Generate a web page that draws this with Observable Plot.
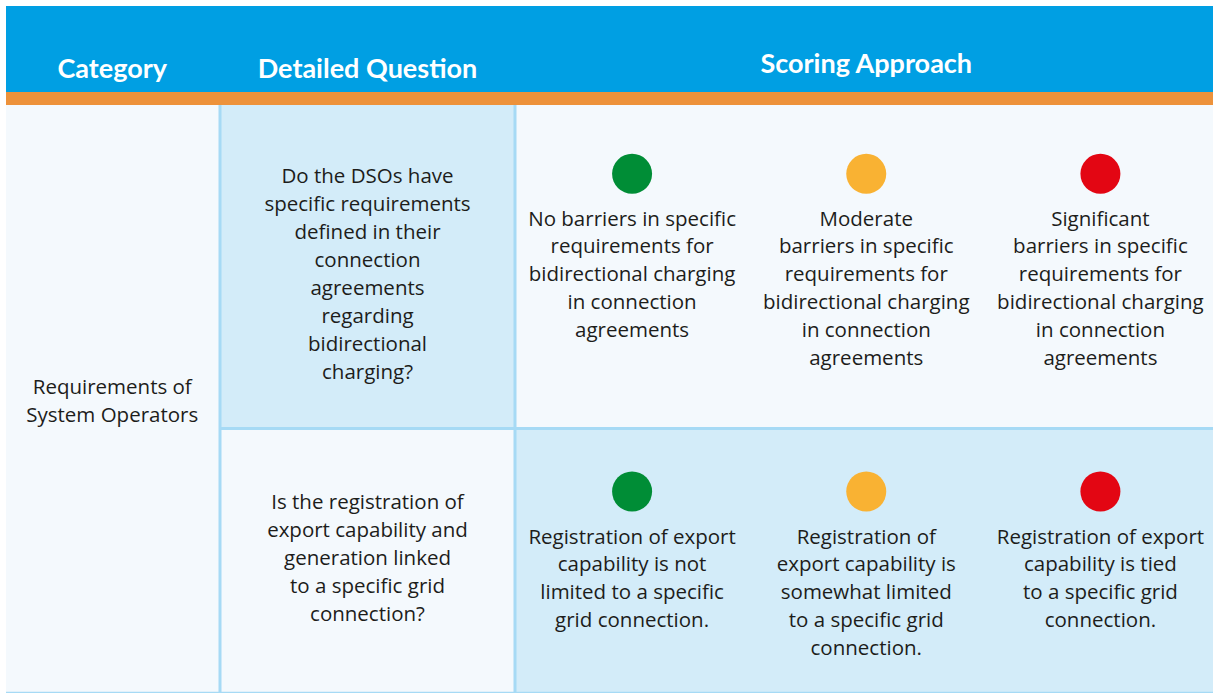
<!DOCTYPE html>
<html>
<head>
<meta charset="utf-8">
<script src="https://cdn.jsdelivr.net/npm/d3@7"></script>
<script src="https://cdn.jsdelivr.net/npm/@observablehq/plot@0.6"></script>
<style>
  html, body { margin: 0; padding: 0; background: #ffffff; }
  #chart svg { display: block; }
</style>
</head>
<body>
<div id="chart"></div>
<script>
// ---- content ----
const headers = ["Category", "Detailed Question", "Scoring Approach"];
const categories = ["Requirements of\nSystem Operators"];
const questions = [
  "Do the DSOs have\nspecific requirements\ndefined in their\nconnection\nagreements\nregarding\nbidirectional\ncharging?",
  "Is the registration of\nexport capability and\ngeneration linked\nto a specific grid\nconnection?"
];
const levels = ["No barriers", "Moderate barriers", "Significant barriers"];
const scoringRow1 = [
  "No barriers in specific\nrequirements for\nbidirectional charging\nin connection\nagreements",
  "Moderate\nbarriers in specific\nrequirements for\nbidirectional charging\nin connection\nagreements",
  "Significant\nbarriers in specific\nrequirements for\nbidirectional charging\nin connection\nagreements"
];
const scoringRow2 = [
  "Registration of export\ncapability is not\nlimited to a specific\ngrid connection.",
  "Registration of\nexport capability is\nsomewhat limited\nto a specific grid\nconnection.",
  "Registration of export\ncapability is tied\nto a specific grid\nconnection."
];

// ---- layout (pixels) ----
const W = 1213, H = 693;
const X0 = 6, XC1 = 219.5, XC2 = 514.5, XR = 1213, XS_END = 1217;
const Y0 = 6, YH = 92, YO = 105, YROW = 428, YB = 692;
const LH = 28;           // line height in px
const FS = 20.5;         // body font size
const TOP = 0.71 * LH;   // baseline offset for lineAnchor "top"
const rowTops = [YO, YROW];
const rowBottoms = [YROW, YB];
const qFirstBaselines = [182.5, 508.5];
const sFirstBaselines = [225, 543];
const dotY = [173.3, 491];
const thirds = (i) => XC2 + (XS_END - XC2) * (i + 0.5) / 3;

const palette = {light: "#f4f9fd", blue: "#d3ecf9", line: "#a6daf5", head: "#009fe3", orange: "#ed923b", text: "#1d1d1b"};

// background cells
const cells = [
  {x1: X0, x2: XR, y1: Y0, y2: YH, fill: palette.head},
  {x1: X0, x2: XR, y1: YH, y2: YO, fill: palette.orange},
  {x1: X0, x2: XC1, y1: YO, y2: YB, fill: palette.light},
  {x1: XC1, x2: XC2, y1: rowTops[0], y2: rowBottoms[0], fill: palette.blue},
  {x1: XC2, x2: XR, y1: rowTops[0], y2: rowBottoms[0], fill: palette.light},
  {x1: XC1, x2: XC2, y1: rowTops[1], y2: rowBottoms[1], fill: palette.light},
  {x1: XC2, x2: XR, y1: rowTops[1], y2: rowBottoms[1], fill: palette.blue}
];

const headerText = headers.map((h, i) => ({
  text: h,
  x: i === 0 ? (X0 + XC1) / 2 - 1 : i === 1 ? (XC1 + XC2) / 2 : (XC2 + XS_END) / 2,
  y: i === 2 ? 64 : 69
}));

const catText = categories.map(c => ({text: c, x: (X0 + XC1) / 2 - 1, y: 393.5 - TOP}));
const qText = questions.map((q, i) => ({text: q, x: (XC1 + XC2) / 2, y: qFirstBaselines[i] - TOP}));
const sText = [scoringRow1, scoringRow2].flatMap((row, r) =>
  row.map((t, i) => ({text: t, x: thirds(i), y: sFirstBaselines[r] - TOP})));
const dots = [0, 1].flatMap(r => levels.map((lv, i) => ({level: lv, x: thirds(i), y: dotY[r]})));

const bodyFont = "'Open Sans', Lato, sans-serif";

const chart = Plot.plot({
  width: W,
  height: H,
  margin: 0,
  x: {domain: [0, W], range: [0, W], axis: null},
  y: {domain: [0, H], range: [0, H], axis: null},
  color: {domain: levels, range: ["#008d36", "#f9b233", "#e30613"]},
  style: {background: "#ffffff", fontFamily: "Lato, 'Open Sans', sans-serif"},
  marks: [
    Plot.rect(cells, {x1: "x1", x2: "x2", y1: "y1", y2: "y2", fill: d => d.fill}),
    // grid lines
    Plot.ruleX([XC1, XC2], {y1: YO, y2: YB, stroke: palette.line, strokeWidth: 3}),
    Plot.ruleY([YROW], {x1: XC1, x2: XR, stroke: palette.line, strokeWidth: 3}),
    Plot.ruleY([YB], {x1: X0, x2: XR, stroke: palette.line, strokeWidth: 1.5}),
    // header
    Plot.text(headerText, {x: "x", y: "y", text: "text", fill: "#ffffff", fontSize: 27, fontWeight: "bold", textAnchor: "middle", lineAnchor: "middle"}),
    // body texts
    Plot.text(catText, {x: "x", y: "y", text: "text", fill: palette.text, fontSize: FS, fontFamily: bodyFont, lineHeight: LH / FS, lineAnchor: "top", textAnchor: "middle"}),
    Plot.text(qText, {x: "x", y: "y", text: "text", fill: palette.text, fontSize: FS, fontFamily: bodyFont, lineHeight: LH / FS, lineAnchor: "top", textAnchor: "middle"}),
    Plot.text(sText, {x: "x", y: "y", text: "text", fill: palette.text, fontSize: FS, fontFamily: bodyFont, lineHeight: LH / FS, lineAnchor: "top", textAnchor: "middle"}),
    Plot.dot(dots, {x: "x", y: "y", fill: "level", r: 20})
  ]
});

document.getElementById("chart").append(chart);
</script>
</body>
</html>
